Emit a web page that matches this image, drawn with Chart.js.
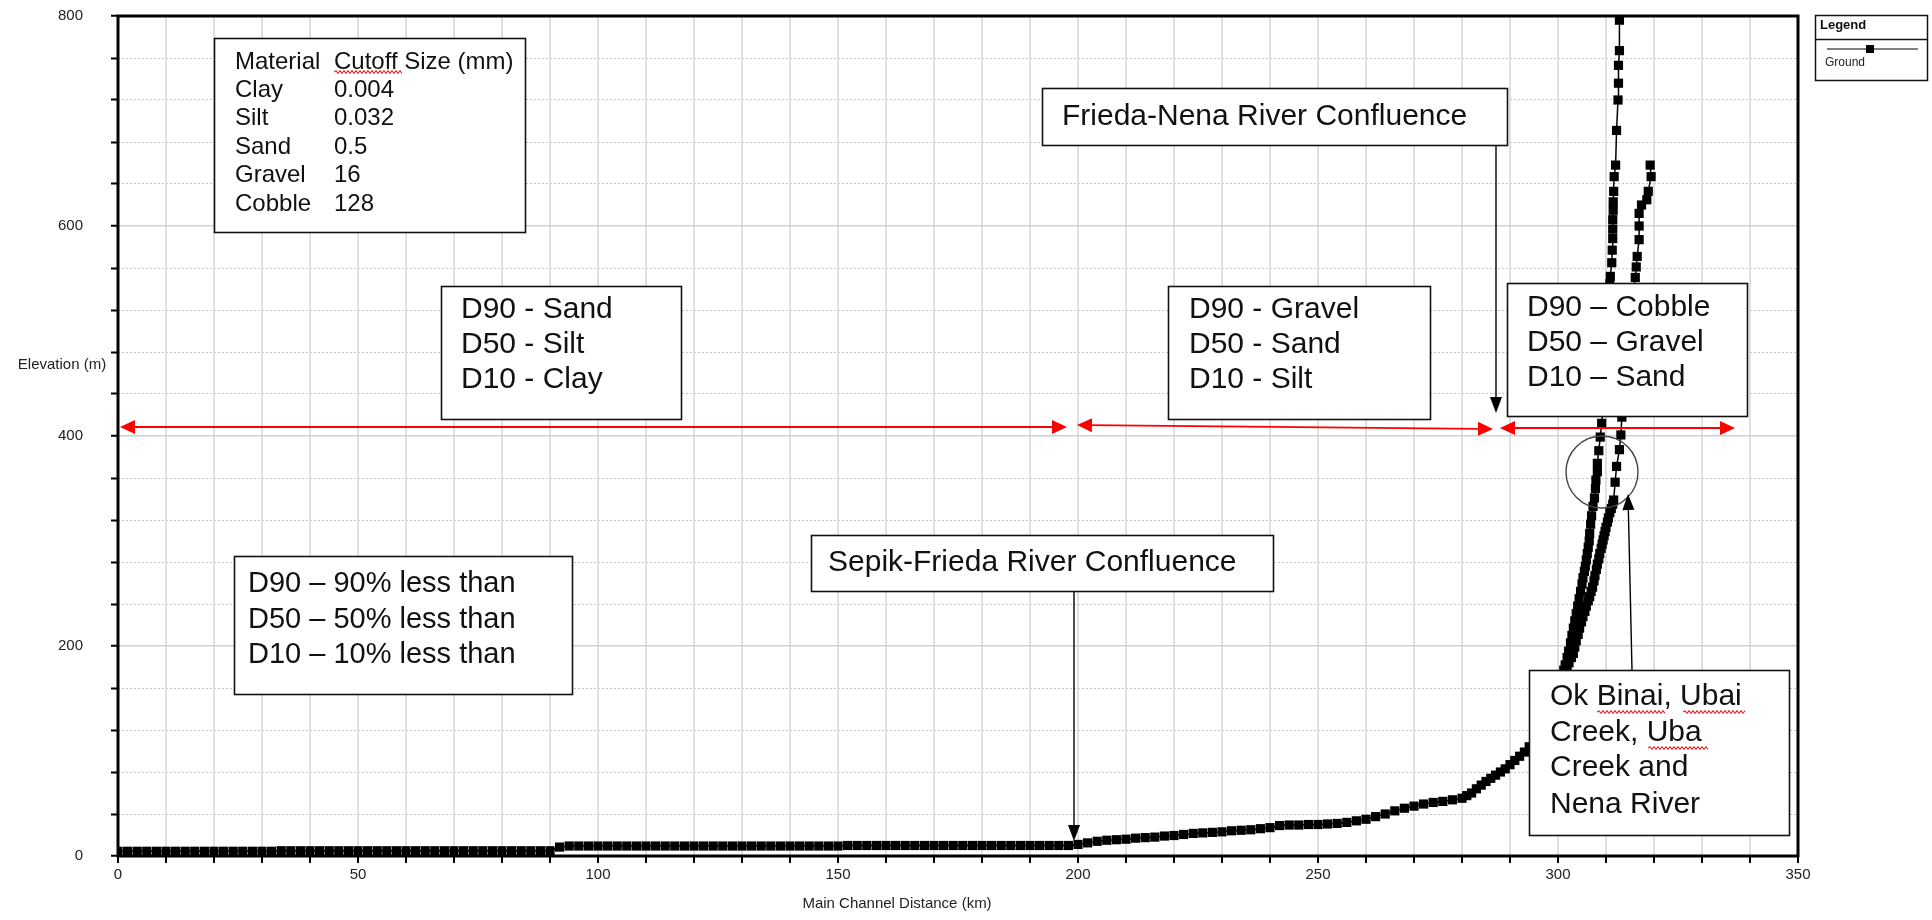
<!DOCTYPE html>
<html>
<head>
<meta charset="utf-8">
<script src="https://cdn.jsdelivr.net/npm/chart.js@4.4.1/dist/chart.umd.min.js"></script>
<style>
html,body{margin:0;padding:0;background:#fff;}
#wrap{width:1932px;height:920px;position:relative;}
</style>
</head>
<body>
<div id="wrap"><canvas id="c" width="1932" height="920"></canvas></div>
<script>
// ---- Data ----
const seriesName = 'Ground';
// Main channel, lower reach: distance (km) / ground elevation (m)
const lowerKm = [
  0,2,4,6,8,10,12,14,16,18,20,22,24,26,28,30,32,34,36,38,40,42,44,46,48,50,52,54,56,58,60,62,64,66,68,70,72,74,76,78,80,82,84,86,88,90,
  92,94,96,98,100,102,104,106,108,110,112,114,116,118,120,122,124,126,128,130,132,134,136,138,140,142,144,146,148,150,
  152,154,156,158,160,162,164,166,168,170,172,174,176,178,180,182,184,186,188,190,192,194,196,198,
  200,202,204,206,208,210,212,214,216,218,220,222,224,226,228,230,232,234,236,238,240,242,244,246,248,250,
  252,254,256,258,260,262,264,266,268,270,272,274,276,278,280,
  281,282,283,284,285,286,287,288,289,290,291,292,293,294,295,
  295.5,296,296.5,297,297.5,298,298.5,299,299.4,299.8,300.1,300.5,300.8,301.2,301.5
];
const lowerElev = [
  4.5,4.5,4.5,4.5,4.5,4.5,4.5,4.5,4.5,4.5,4.5,4.5,4.5,4.5,4.5,4.5,4.5,5,5,5,5,5,5,5,5,5,5,5,5,5,5,5,5,5,5,5,5,5,5,5,5,5,5,5,5,5,
  8.5,9.5,9.5,9.5,9.5,9.5,9.5,9.5,9.5,9.5,9.5,9.5,9.5,9.5,9.5,9.5,9.5,9.5,9.5,9.5,9.5,9.5,9.5,9.5,9.5,9.5,9.5,9.5,9.5,9.5,
  10,10,10,10,10,10,10,10,10,10,10,10,10,10,10,10,10,10,10,10,10,10,10,10,
  11,12.5,14,15,15.5,16,17,17.5,18,19,19.5,20.5,21.5,22,22.5,23,24,24.5,25,26,27,29,29.5,29.5,30,30,
  30.5,31,32,33.5,35,37.5,40,43,45.5,47.5,49.5,51,52,53.5,55,
  57.5,60,64,67.5,71,74,77,80,83,87,91,95,99,104,109,
  112,116,120,124,128,133,139,145,152,158,163,168,172,177,182
];
// Main channel, upper reach (to 800 m)
const upperKm = [
  301.9,302.2,302.6,302.9,303.2,303.5,303.8,304.1,304.4,304.7,305,305.2,305.5,305.7,305.9,306.1,306.3,306.5,306.6,306.8,307,307.3,307.6,
  307.8,307.9,308.2,308.2,308.5,308.8,309.1,309.4,309.8,310.2,310.5,310.8,310.9,311.2,311.3,311.4,311.4,311.4,311.5,311.5,311.6,311.7,
  312.0,312.2,312.5,312.6,312.6,312.8,312.8
];
const upperElev = [
  189,195,203,210,217,224,231,238,245,252,259,265,271,276,282,288,294,300,307,316,324,333,341,
  350,358,366,374,386,399,412,430,460,490,520,545,552,565,577,588,597,606,615,623,633,647,
  658,691,720,736,753,767,796
];
// Tributary branch leaving the main channel near 301 km
const branchKm = [
  301.5,301.9,302.3,302.8,303.2,303.5,303.8,304.2,304.5,304.9,305.2,305.6,305.9,306.3,306.6,306.9,307.2,307.5,307.7,308,
  308.2,308.5,308.7,309,309.2,309.4,309.6,309.8,310,310.3,310.5,310.8,311.1,311.4,311.6,
  311.9,312.2,312.8,313.1,313.3,313.8,314.5,315.2,316.1,316.3,316.5,316.9,316.9,316.9,317.4,318.5,318.8,319.4,319.2
];
const branchElev = [
  176,180,184,189,193,199,205,211,217,223,228,233,238,243,247,252,256,262,267,273,
  278,283,288,293,297,301,305,309,313,318,322,327,331,335,339,
  356,371,387,401,418,450,490,520,551,561,571,587,600,612,620,625,633,647,658
];
const xLabelEvery = 50, xStep = 10, xMin = 0, xMax = 350;
const yLabelEvery = 200, yStep = 40, yMin = 0, yMax = 800;

// ---- Build the library's dataset from the arrays ----
const channelKm = lowerKm.concat(upperKm);
const channelElev = lowerElev.concat(upperElev);
const groundPoints = channelKm.map((k,i)=>({x:k,y:channelElev[i]}))
  .concat([{x:channelKm[channelKm.length-1], y:null}])
  .concat(branchKm.map((k,i)=>({x:k,y:branchElev[i]})));

const FONT = '"Liberation Sans", Arial, Helvetica, sans-serif';

function arrowHead(ctx, x1, y1, x2, y2, len, hw) {
  const a = Math.atan2(y2 - y1, x2 - x1);
  ctx.beginPath();
  ctx.moveTo(x2, y2);
  ctx.lineTo(x2 - len*Math.cos(a) + hw*Math.sin(a), y2 - len*Math.sin(a) - hw*Math.cos(a));
  ctx.lineTo(x2 - len*Math.cos(a) - hw*Math.sin(a), y2 - len*Math.sin(a) + hw*Math.cos(a));
  ctx.closePath();
  ctx.fill();
}
function arrow(ctx, x1, y1, x2, y2, color, both, len, hw, lw) {
  ctx.save();
  ctx.strokeStyle = color; ctx.fillStyle = color; ctx.lineWidth = lw;
  const a = Math.atan2(y2 - y1, x2 - x1);
  const sx = both ? x1 + (len-2)*Math.cos(a) : x1, sy = both ? y1 + (len-2)*Math.sin(a) : y1;
  ctx.beginPath(); ctx.moveTo(sx, sy);
  ctx.lineTo(x2 - (len-2)*Math.cos(a), y2 - (len-2)*Math.sin(a)); ctx.stroke();
  arrowHead(ctx, x1, y1, x2, y2, len, hw);
  if (both) arrowHead(ctx, x2, y2, x1, y1, len, hw);
  ctx.restore();
}
function wavy(ctx, x1, x2, y) {
  ctx.save(); ctx.strokeStyle = '#e32b2b'; ctx.lineWidth = 1.1; ctx.beginPath();
  ctx.moveTo(x1, y); let up = true;
  for (let x = x1; x < x2; x += 2) { ctx.lineTo(x + 2, up ? y - 1.3 : y + 1.3); up = !up; }
  ctx.stroke(); ctx.restore();
}
function box(ctx, x, y, w, h) {
  ctx.save(); ctx.fillStyle = '#fff'; ctx.fillRect(x, y, w, h);
  ctx.strokeStyle = '#111'; ctx.lineWidth = 1.6; ctx.strokeRect(x + 0.5, y + 0.5, w, h);
  ctx.restore();
}

const notes = [
  {x:441,y:286,w:240,h:133,tx:461,size:30,ty:[310,345,380],lines:['D90 - Sand','D50 - Silt','D10 - Clay']},
  {x:1168,y:286,w:262,h:133,tx:1189,size:30,ty:[310,345,380],lines:['D90 - Gravel','D50 - Sand','D10 - Silt']},
  {x:1507,y:283,w:240,h:133,tx:1527,size:30,ty:[308,343,378],lines:['D90 \u2013 Cobble','D50 \u2013 Gravel','D10 \u2013 Sand']},
  {x:1042,y:88,w:465,h:57,tx:1062,size:30,ty:[117],lines:['Frieda-Nena River Confluence']},
  {x:811,y:535,w:462,h:56,tx:828,size:30,ty:[563],lines:['Sepik-Frieda River Confluence']},
  {x:234,y:556,w:338,h:138,tx:248,size:29,ty:[584,620,655],lines:['D90 \u2013 90% less than','D50 \u2013 50% less than','D10 \u2013 10% less than']},
  {x:1529,y:670,w:260,h:165,tx:1550,size:30,ty:[697,733,768,805],lines:['Ok Binai, Ubai','Creek, Uba','Creek and','Nena River']}
];
const tableRows = [['Material','Cutoff Size (mm)'],['Clay','0.004'],['Silt','0.032'],['Sand','0.5'],['Gravel','16'],['Cobble','128']];

const overlay = {
  id: 'overlay',
  afterDatasetsDraw(chart) {
    const ctx = chart.ctx;
    ctx.save();
    // red range arrows
    arrow(ctx, 120, 427, 1067, 427, '#ff0000', true, 15, 7, 2);
    arrow(ctx, 1077, 425, 1493, 429, '#ff0000', true, 15, 7, 2);
    arrow(ctx, 1500, 428, 1735, 428, '#ff0000', true, 15, 7, 2);
    // circle around the junction
    ctx.strokeStyle = '#444'; ctx.lineWidth = 1.4;
    ctx.beginPath(); ctx.arc(1602, 472, 36, 0, Math.PI*2); ctx.stroke();
    // call-out arrows
    arrow(ctx, 1496, 145, 1496, 413, '#000', false, 16, 6, 1.4);
    arrow(ctx, 1074, 591, 1074, 841, '#000', false, 16, 6, 1.4);
    arrow(ctx, 1632, 670, 1628, 494, '#000', false, 16, 6, 1.4);
    // material table
    box(ctx, 214, 38, 311, 194);
    ctx.fillStyle = '#111'; ctx.textBaseline = 'middle'; ctx.textAlign = 'left';
    ctx.font = '24px ' + FONT;
    const rowY = [62, 90, 118, 147, 175, 204];
    tableRows.forEach((r, i) => { ctx.fillText(r[0], 235, rowY[i]); ctx.fillText(r[1], 334, rowY[i]); });
    wavy(ctx, 334, 402, 72);
    // text boxes
    notes.forEach(n => {
      box(ctx, n.x, n.y, n.w, n.h);
      ctx.fillStyle = '#111'; ctx.font = n.size + 'px ' + FONT; ctx.textBaseline = 'middle';
      n.lines.forEach((t, i) => ctx.fillText(t, n.tx, n.ty[i]));
    });
    wavy(ctx, 1597, 1665, 712);
    wavy(ctx, 1683, 1745, 712);
    wavy(ctx, 1648, 1707, 748);
    ctx.restore();
  },
  afterDraw(chart) {
    const ctx = chart.ctx;
    const a = chart.chartArea;
    ctx.save();
    // plot frame
    ctx.strokeStyle = '#000'; ctx.lineWidth = 3;
    ctx.strokeRect(a.left, a.top, a.right - a.left, a.bottom - a.top);
    // axis titles
    ctx.fillStyle = '#222'; ctx.font = '15px ' + FONT; ctx.textBaseline = 'middle';
    ctx.textAlign = 'center';
    ctx.fillText('Elevation (m)', 62, 365);
    ctx.fillText('Main Channel Distance (km)', 897, 904);
    // legend
    ctx.strokeStyle = '#111'; ctx.lineWidth = 1.5;
    ctx.strokeRect(1815.5, 15.5, 112, 65);
    ctx.beginPath(); ctx.moveTo(1815, 39.5); ctx.lineTo(1928, 39.5); ctx.stroke();
    ctx.textAlign = 'left'; ctx.fillStyle = '#111';
    ctx.font = 'bold 13px ' + FONT; ctx.fillText('Legend', 1820, 25);
    ctx.strokeStyle = '#555'; ctx.lineWidth = 1.5;
    ctx.beginPath(); ctx.moveTo(1827, 49); ctx.lineTo(1918, 49); ctx.stroke();
    ctx.fillStyle = '#000'; ctx.fillRect(1866, 45, 8, 8);
    ctx.fillStyle = '#222'; ctx.font = '12px ' + FONT; ctx.fillText(seriesName, 1825, 63);
    ctx.restore();
  }
};

new Chart(document.getElementById('c'), {
  type: 'line',
  data: {
    datasets: [{
      label: seriesName,
      data: groundPoints,
      borderColor: '#000',
      backgroundColor: '#000',
      borderWidth: 1.5,
      pointStyle: 'rect',
      pointRadius: 6.5,
      pointHoverRadius: 6.5,
      pointBorderWidth: 0,
      spanGaps: false,
      tension: 0
    }]
  },
  options: {
    responsive: false,
    animation: false,
    devicePixelRatio: 1,
    events: [],
    layout: { padding: { left: 0, right: 134, top: 16, bottom: 0 } },
    plugins: { legend: { display: false }, tooltip: { enabled: false } },
    scales: {
      x: {
        type: 'linear', min: xMin, max: xMax,
        afterFit(s) { s.height = 64; },
        ticks: {
          stepSize: xStep, autoSkip: false, maxRotation: 0, padding: 3,
          color: '#222', font: { family: FONT, size: 15 },
          callback: v => (v % xLabelEvery === 0 ? String(v) : '')
        },
        grid: { color: '#e0e0e0', lineWidth: 2, tickLength: 7, tickColor: '#000', tickWidth: 2 },
        border: { display: false }
      },
      y: {
        type: 'linear', min: yMin, max: yMax,
        afterFit(s) { s.width = 118; s.paddingTop = 8; s.paddingBottom = 8; },
        ticks: {
          stepSize: yStep, autoSkip: false, padding: 28,
          color: '#222', font: { family: FONT, size: 15 },
          callback: v => (v % yLabelEvery === 0 ? String(v) : '')
        },
        grid: {
          color: c => (c.tick && c.tick.value % yLabelEvery === 0 ? '#cfcfcf' : '#c6c6c6'),
          lineWidth: c => (c.tick && c.tick.value % yLabelEvery === 0 ? 1.5 : 1),
          tickLength: 7, tickColor: '#000', tickWidth: 2
        },
        border: { display: false, dash: c => (c.tick && c.tick.value % yLabelEvery !== 0 ? [2, 2] : []) }
      }
    }
  },
  plugins: [overlay]
});
</script>
</body>
</html>
